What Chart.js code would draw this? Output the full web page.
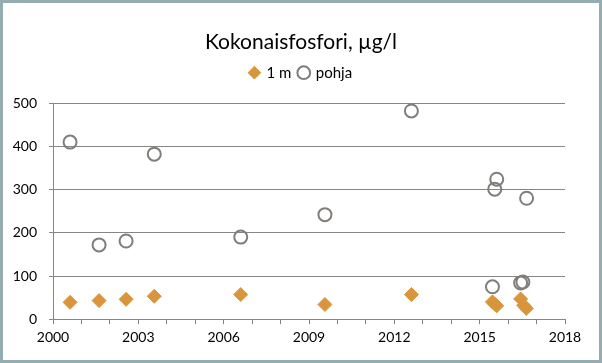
<!DOCTYPE html>
<html>
<head>
<meta charset="utf-8">
<script src="https://cdn.jsdelivr.net/npm/chart.js@4"></script>
<style>
    html, body { margin: 0; padding: 0; background: #fff; }
    #frame {
        width: 602px; height: 363px; box-sizing: border-box;
        border: 3px solid #95adb2; background: #fff;
    }
    #chart { display: block; }
</style>
</head>
<body>
<div id="frame"><canvas id="chart" width="596" height="357"></canvas></div>
<script>
// havaintojen ajankohdat (vuosi desimaalina) ja arvot
const years1m = [2000.6, 2001.62, 2002.57, 2003.56, 2006.6, 2009.56, 2012.6, 2015.45, 2015.53, 2015.6, 2016.44, 2016.55, 2016.64];
const values1m = [39, 43, 46, 53, 57, 34, 57, 40, 35, 31, 47, 32, 25];

const yearsPohja = [2000.6, 2001.62, 2002.57, 2003.56, 2006.6, 2009.56, 2012.6, 2015.45, 2015.53, 2015.6, 2016.44, 2016.52, 2016.65];
const valuesPohja = [410, 172, 181, 382, 190, 242, 482, 75, 301, 324, 84, 86, 280];

const xMin = 2000, xMax = 2018;
const yTicks = [0, 100, 200, 300, 400, 500];

const toPoints = (xs, ys) => xs.map((x, i) => ({ x: x, y: ys[i] }));

Chart.defaults.font.family = 'Lato, "Open Sans", sans-serif';
Chart.defaults.color = '#000';

// lisää tilaa selitteen alle
const legendGap = {
    id: 'legendGap',
    beforeInit(chart) {
        const origFit = chart.legend.fit;
        chart.legend.fit = function () {
            origFit.bind(chart.legend)();
            this.height += 13;
        };
    }
};

const ctx = document.getElementById('chart').getContext('2d');
new Chart(ctx, {
    type: 'scatter',
    data: {
        datasets: [
            {
                label: '1 m',
                data: toPoints(years1m, values1m),
                pointStyle: 'rectRot',
                pointRadius: 7,
                pointHoverRadius: 7,
                backgroundColor: '#d9953b',
                borderColor: '#d9953b',
                borderWidth: 1
            },
            {
                label: 'pohja',
                data: toPoints(yearsPohja, valuesPohja),
                pointStyle: 'circle',
                pointRadius: 6.5,
                pointHoverRadius: 6.5,
                backgroundColor: 'rgba(255,255,255,0)',
                borderColor: '#807d7a',
                borderWidth: 2
            }
        ]
    },
    options: {
        responsive: false,
        animation: false,
        layout: { padding: { left: 0, right: 0, top: 6, bottom: 9 } },
        plugins: {
            title: {
                display: true,
                text: 'Kokonaisfosfori, µg/l',
                font: { size: 21, weight: 'normal' },
                padding: { top: 21, bottom: 2 }
            },
            legend: {
                display: true,
                labels: {
                    usePointStyle: true,
                    boxWidth: 9,
                    boxHeight: 9,
                    padding: 8,
                    font: { size: 15 }
                }
            },
            tooltip: { enabled: false }
        },
        scales: {
            x: {
                type: 'linear',
                min: xMin,
                max: xMax,
                ticks: {
                    stepSize: 1,
                    autoSkip: false,
                    maxRotation: 0,
                    font: { size: 14 },
                    padding: 5,
                    callback: (v) => ((v - xMin) % 3 === 0 ? String(v) : '')
                },
                grid: {
                    drawOnChartArea: false,
                    drawTicks: true,
                    tickLength: 5,
                    color: '#868686'
                },
                border: { color: '#868686' }
            },
            y: {
                min: yTicks[0],
                max: yTicks[yTicks.length - 1],
                afterBuildTicks: (axis) => { axis.ticks = yTicks.map(v => ({ value: v })); },
                afterFit: (axis) => { axis.width = 50; },
                ticks: { font: { size: 14 }, padding: 12 },
                grid: { color: '#868686', tickLength: 4 },
                border: { color: '#868686' }
            },
            // tyhjä tila oikealle
            yRight: {
                position: 'right',
                display: true,
                ticks: { display: false },
                grid: { display: false },
                border: { display: false },
                afterFit: (axis) => { axis.width = 34; }
            }
        }
    },
    plugins: [legendGap]
});
</script>
</body>
</html>
